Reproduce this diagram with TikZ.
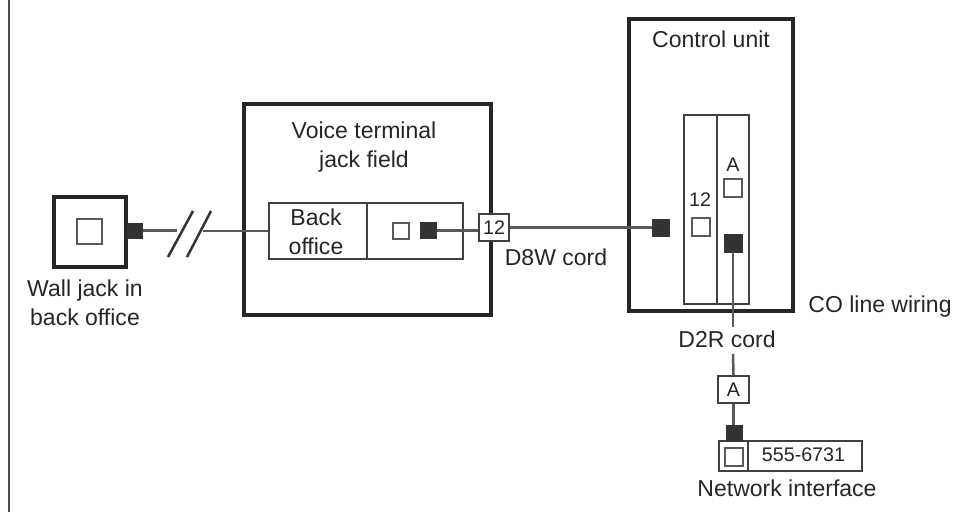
\documentclass[tikz,border=0pt]{standalone}
\usepackage{fontspec}
\setmainfont{Liberation Sans}
\tikzset{
  heavybox/.style={draw=black!85,line width=.95mm,fill=none,inner sep=0pt},
  thinbox/.style={draw=black!75,line width=.45mm,fill=white,inner sep=0pt},
  jackbox/.style={draw=black!65,line width=.4mm,fill=white,inner sep=0pt},
  plugbox/.style={draw=black!80,fill=black!80,line width=.1mm,inner sep=0pt},
  wire/.style={draw=black!65,line width=.5mm},
  slash/.style={draw=black!80,line width=.5mm},
  lbl/.style={text=black!85,font=\fontsize{13.1}{14}\selectfont,inner sep=0pt},
  tag/.style={text=black!85,font=\fontsize{11.2}{13}\selectfont,inner sep=0pt}
}
\begin{document}
\begin{tikzpicture}[x=0.02cm,y=-0.02cm]
\useasboundingbox (0,0) rectangle (963,512);
\draw[black!70,line width=.5mm] (9,0) coordinate (edgetop) -- (9,512) coordinate (edgebot);
% boxes: name/centre x/centre y/width/height
\foreach \n/\x/\y/\w/\h in {wall/90/232/72/70,field/367.5/209.5/247/211,ctrl/711/165/164/292}{
  \node[heavybox,minimum width=\w*0.02cm,minimum height=\h*0.02cm] (\n) at (\x,\y) {};}
\foreach \n/\x/\y/\w/\h in {fieldL/318/231/98/56,fieldR/415/231/96/56,strip12/700.5/209.5/33/189,stripA/733/209.5/32/189,box12/494/227.5/30/27,boxA/733.5/389.5/31/27,ifaceL/733.5/456/29/30,ifaceR/805/456/114/30}{
  \node[thinbox,minimum width=\w*0.02cm,minimum height=\h*0.02cm] (\n) at (\x,\y) {};}
\foreach \n/\x/\y/\s in {walljack/89/231.5/25,termjack/401/230.5/16,jack12/701/227/18,jackA/733/187.5/18,ifacejack/734/456.5/18}{
  \node[jackbox,minimum size=\s*0.02cm] (\n) at (\x,\y) {};}
\foreach \n/\x/\y/\s in {wallplug/135/230.5/15,termplug/428.5/230.5/16,ctrlplug/661/227.5/17,pickplug/733/243/18,netplug/734.5/433.5/16}{
  \node[plugbox,minimum size=\s*0.02cm] (\n) at (\x,\y) {};}
% cords
\coordinate (gapL) at (177,231); \coordinate (gapR) at (203,231);
\coordinate (d2rtop) at (733,327); \coordinate (d2rbot) at (733,354);
\draw[wire] (wallplug.east) -- (wallplug.east -| gapL);
\draw[wire] (gapR |- fieldL.west) -- (fieldL.west);
\draw[wire] (termplug.east) -- (termplug.east -| box12.west);
\draw[wire] (box12.east) -- (ctrlplug.west);
\draw[wire] (pickplug.south) -- (d2rtop);
\draw[wire] (d2rbot) -- (boxA.north);
\draw[wire] (boxA.south) -- (boxA.south |- netplug.north);
\draw[slash] (168,257) coordinate (cutA) -- (193,211) coordinate (cutB);
\draw[slash] (187,257) coordinate (cutC) -- (211,211) coordinate (cutD);
% labels
\node[lbl,align=center] (walltext) at (85,302.5) {Wall jack in\\[.9mm]back office};
\node[lbl,align=center] (fieldtext) at (364,147) {Voice terminal\\[.9mm]jack field};
\node[lbl,align=center] (backtext) at (316,231.5) {Back\\[.9mm]office};
\node[lbl] (ctrltext) at (711,39) {Control unit};
\node[lbl] (d8wtext) at (556,257) {D8W cord};
\node[lbl] (cotext) at (880,307) {CO line wiring};
\node[lbl] (d2rtext) at (727,339) {D2R cord};
\node[lbl] (nettext) at (787,488) {Network interface};
\node[tag] (numtext) at (803.5,455) {555-6731};
\node[tag] (tag12) at (494,227.5) {12};
\node[tag] (tagA) at (733.5,389.5) {A};
\node[tag] (slot12) at (700,200) {12};
\node[tag] (slotA) at (733,165) {A};
\end{tikzpicture}
\end{document}
